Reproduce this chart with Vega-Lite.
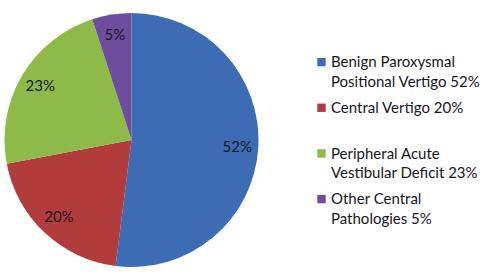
{
  "$schema": "https://vega.github.io/schema/vega-lite/v6.json",
  "background": "white",
  "padding": {"left": 4.5, "top": 13, "right": 0, "bottom": 0},
  "spacing": 58.5,
  "config": {"view": {"stroke": null}, "font": "Lato"},
  "datasets": {
    "slices": [
      {"order": 1, "category": "Benign Paroxysmal Positional Vertigo", "value": 52, "label": "52%", "legend": "Benign Paroxysmal\nPositional Vertigo 52%"},
      {"order": 2, "category": "Central Vertigo", "value": 20, "label": "20%", "legend": "Central Vertigo 20%"},
      {"order": 3, "category": "Peripheral Acute Vestibular Deficit", "value": 23, "label": "23%", "legend": "Peripheral Acute\nVestibular Deficit 23%"},
      {"order": 4, "category": "Other Central Pathologies", "value": 5, "label": "5%", "legend": "Other Central\nPathologies 5%"}
    ]
  },
  "hconcat": [
    {
      "width": 254,
      "height": 254,
      "data": {"name": "slices"},
      "encoding": {
        "theta": {"field": "value", "type": "quantitative", "stack": true},
        "order": {"field": "order", "type": "quantitative"},
        "color": {
          "field": "category",
          "type": "nominal",
          "legend": null,
          "sort": ["Benign Paroxysmal Positional Vertigo", "Central Vertigo", "Peripheral Acute Vestibular Deficit", "Other Central Pathologies"],
          "scale": {
            "domain": ["Benign Paroxysmal Positional Vertigo", "Central Vertigo", "Peripheral Acute Vestibular Deficit", "Other Central Pathologies"],
            "range": ["#3E6CB4", "#B23B3B", "#8DBA48", "#6E4D9F"]
          }
        }
      },
      "layer": [
        {"mark": {"type": "arc", "outerRadius": 127}},
        {
          "mark": {"type": "text", "radius": 106, "fontSize": 15, "fill": "#16161E", "align": "center", "baseline": "middle"},
          "encoding": {"text": {"field": "label"}, "color": {"value": "#16161E"}}
        }
      ]
    },
    {
      "width": 180,
      "height": 254,
      "data": {"name": "slices"},
      "encoding": {
        "y": {"field": "order", "type": "ordinal", "axis": null, "scale": {"type": "point", "padding": 0, "range": [42.2, 179.2]}}
      },
      "layer": [
        {
          "mark": {"type": "point", "shape": "square", "filled": true, "size": 70, "opacity": 1, "x": 4.5, "yOffset": 6.9},
          "encoding": {
            "color": {
              "field": "category",
              "type": "nominal",
              "legend": null,
              "scale": {
                "domain": ["Benign Paroxysmal Positional Vertigo", "Central Vertigo", "Peripheral Acute Vestibular Deficit", "Other Central Pathologies"],
                "range": ["#3E6CB4", "#B23B3B", "#8DBA48", "#6E4D9F"]
              }
            }
          }
        },
        {
          "mark": {"type": "text", "x": 14, "align": "left", "baseline": "top", "fontSize": 15, "lineBreak": "\n", "lineHeight": 19.5, "fill": "#16161E"},
          "encoding": {"text": {"field": "legend"}}
        }
      ]
    }
  ]
}
